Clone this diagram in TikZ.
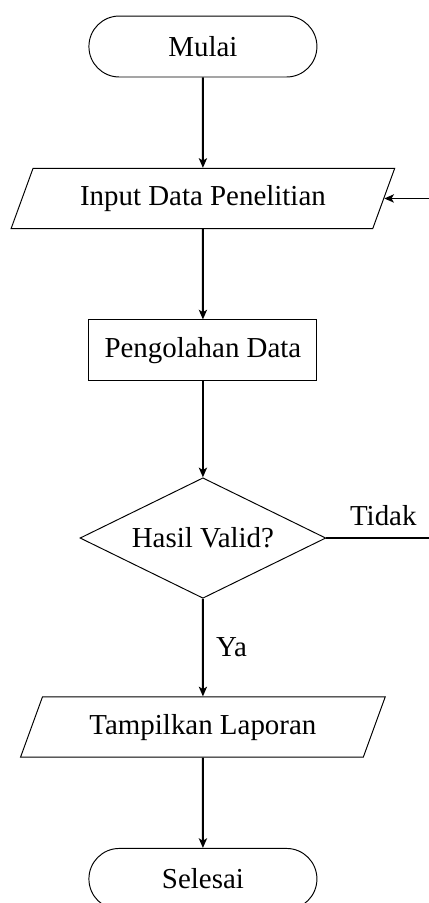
\documentclass[tikz,border=0pt]{standalone}
\usepackage{fontspec}
\setmainfont{Liberation Serif}
\usetikzlibrary{arrows.meta,positioning,shapes.geometric}

\begin{document}
\begin{tikzpicture}[
    node distance=37.5pt,
    font=\fontsize{12}{14}\selectfont,
    term/.style={rectangle, draw, rounded corners=12.6pt, minimum width=94.6pt, minimum height=25.3pt},
    io/.style  ={trapezium, trapezium left angle=70, trapezium right angle=110, draw,
                 text height=8.5pt, text depth=2.5pt, inner ysep=7pt, inner xsep=19.5pt},
    proc/.style={rectangle, draw, minimum width=94.6pt, minimum height=25.3pt},
    dec/.style ={diamond, draw, aspect=2, minimum width=102pt, minimum height=50pt, inner sep=0pt},
    arr/.style={->, thick, >={Stealth[length=4pt, width=3.4pt, inset=1pt]}}
]
  \useasboundingbox (0,0) rectangle (177.6pt,-374.7pt);

  \node[term] (mulai) at (84.2pt,-19.3pt) {Mulai};
  \node[io,   below=of mulai]      (inp)     {Input Data Penelitian};
  \node[proc, below=of inp]        (olah)    {Pengolahan Data};
  \node[dec,  below=39.8pt of olah] (dia)    {Hasil Valid?};
  \node[io,   below=40.5pt of dia]  (lapor)  {Tampilkan Laporan};
  \node[term, below=of lapor]      (selesai) {Selesai};

  \coordinate[right=47.3pt of dia.east] (ret);

  \draw[arr] (mulai) -- (inp);
  \draw[arr] (inp)   -- (olah);
  \draw[arr] (olah)  -- (dia);
  \draw[arr] (dia)   -- node[right=1.7pt] {Ya} (lapor);
  \draw[arr] (lapor) -- (selesai);
  \draw[arr] (dia.east) -- node[above=1.5pt] {Tidak} (ret) |- (inp.east);
\end{tikzpicture}
\end{document}
